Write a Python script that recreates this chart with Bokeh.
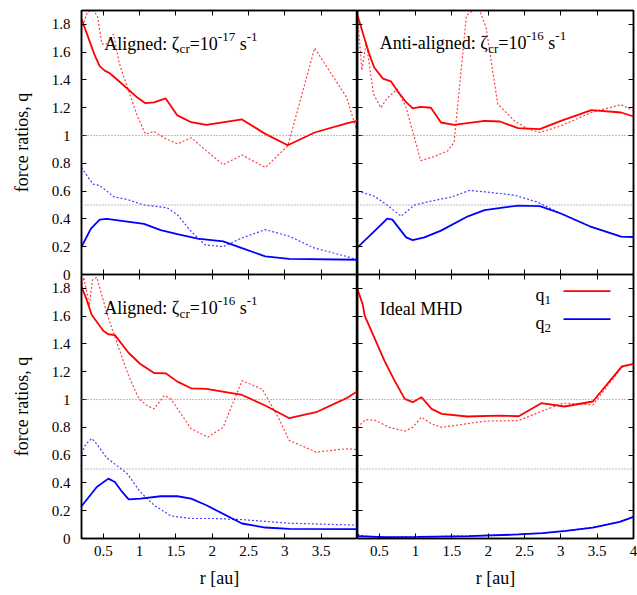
import math
from bokeh.plotting import figure
from bokeh.models import Range1d, LinearAxis, FixedTicker, CustomJSTickFormatter, Span, Label
from bokeh.layouts import row, column
from bokeh.embed import file_html
from bokeh.resources import INLINE

FONT = "Liberation Serif"
RED = "#ff0000"
BLUE = "#0000ff"

# ---------------- data ----------------
X_TICKS_LEFT = [0.5, 1, 1.5, 2, 2.5, 3, 3.5]
X_TICKS_RIGHT = [0.5, 1, 1.5, 2, 2.5, 3, 3.5, 4]
Y_TICKS = [0, 0.2, 0.4, 0.6, 0.8, 1.0, 1.2, 1.4, 1.6, 1.8]
REF_LEVELS = [1.0, 0.5]

# Top-left: Aligned, zeta_cr = 1e-17
tl_q1_x = [0.2, 0.29, 0.38, 0.45, 0.52, 0.59, 0.76, 0.965, 1.08, 1.2, 1.36, 1.52, 1.71, 1.92, 2.41, 2.73, 3.04, 3.41, 3.85, 4.0]
tl_q1_y = [1.84, 1.71, 1.58, 1.50, 1.467, 1.448, 1.371, 1.275, 1.233, 1.239, 1.267, 1.145, 1.096, 1.077, 1.116, 1.012, 0.93, 1.022, 1.087, 1.106]
tl_q1d_x = [0.2, 0.28, 0.36, 0.42, 0.48, 0.56, 0.64, 0.72, 0.85, 0.97, 1.08, 1.2, 1.35, 1.52, 1.71, 1.92, 2.15, 2.41, 2.73, 3.04, 3.41, 3.85, 4.0]
tl_q1d_y = [1.76, 1.89, 1.90, 1.86, 1.66, 1.66, 1.73, 1.52, 1.32, 1.14, 1.01, 1.03, 0.98, 0.94, 0.985, 0.89, 0.79, 0.86, 0.77, 0.925, 1.63, 1.275, 1.02]
tl_q2_x = [0.2, 0.33, 0.45, 0.55, 1.06, 1.29, 1.52, 1.8, 2.15, 2.41, 2.73, 3.06, 4.0]
tl_q2_y = [0.2, 0.33, 0.395, 0.40, 0.364, 0.32, 0.29, 0.258, 0.239, 0.19, 0.13, 0.113, 0.106]
tl_q2d_x = [0.2, 0.29, 0.36, 0.45, 0.55, 0.64, 0.83, 1.06, 1.38, 1.52, 1.71, 1.9, 2.15, 2.41, 2.73, 3.06, 3.41, 3.85, 4.0]
tl_q2d_y = [0.77, 0.70, 0.65, 0.64, 0.60, 0.56, 0.54, 0.50, 0.48, 0.43, 0.31, 0.214, 0.20, 0.263, 0.323, 0.275, 0.19, 0.13, 0.106]

# Top-right: Anti-aligned, zeta_cr = 1e-16
tr_q1_x = [0.2, 0.29, 0.36, 0.43, 0.55, 0.66, 0.75, 0.87, 0.96, 1.07, 1.21, 1.35, 1.53, 1.95, 2.16, 2.41, 2.71, 3.0, 3.42, 3.83, 4.0]
tr_q1_y = [1.865, 1.71, 1.59, 1.49, 1.41, 1.39, 1.32, 1.24, 1.195, 1.207, 1.20, 1.094, 1.077, 1.106, 1.101, 1.053, 1.046, 1.106, 1.183, 1.166, 1.137]
tr_q1d_x = [0.2, 0.26, 0.32, 0.42, 0.52, 0.61, 0.75, 0.87, 0.96, 1.07, 1.24, 1.44, 1.53, 1.7, 1.79, 1.88, 1.97, 2.13, 2.36, 2.55, 2.71, 3.0, 3.42, 3.83, 4.0]
tr_q1d_y = [1.87, 1.47, 1.67, 1.30, 1.20, 1.27, 1.335, 1.20, 1.03, 0.82, 0.846, 0.889, 0.95, 1.865, 1.90, 1.90, 1.78, 1.227, 1.106, 1.046, 1.022, 1.07, 1.166, 1.222, 1.178]
tr_q2_x = [0.2, 0.43, 0.61, 0.68, 0.87, 0.96, 1.12, 1.35, 1.72, 1.95, 2.41, 2.71, 3.0, 3.42, 3.83, 4.0]
tr_q2_y = [0.195, 0.311, 0.402, 0.395, 0.267, 0.248, 0.267, 0.316, 0.419, 0.463, 0.496, 0.492, 0.439, 0.342, 0.272, 0.27]
tr_q2d_x = [0.2, 0.43, 0.61, 0.8, 0.98, 1.21, 1.49, 1.74, 1.95, 2.36, 2.68, 3.0, 3.42, 3.83, 4.0]
tr_q2d_y = [0.60, 0.564, 0.499, 0.419, 0.499, 0.528, 0.557, 0.605, 0.595, 0.571, 0.52, 0.439, 0.342, 0.272, 0.27]

# Bottom-left: Aligned, zeta_cr = 1e-16
bl_q1_x = [0.2, 0.27, 0.34, 0.5, 0.57, 0.66, 0.85, 1.01, 1.2, 1.36, 1.52, 1.71, 1.92, 2.41, 2.73, 3.06, 3.43, 3.85, 4.0]
bl_q1_y = [1.813, 1.72, 1.61, 1.495, 1.47, 1.464, 1.335, 1.256, 1.191, 1.189, 1.129, 1.081, 1.077, 1.033, 0.957, 0.866, 0.909, 1.01, 1.06]
bl_q1d_x = [0.2, 0.23, 0.31, 0.35, 0.41, 0.55, 0.64, 0.85, 0.99, 1.1, 1.2, 1.34, 1.43, 1.71, 1.94, 2.15, 2.41, 2.69, 2.92, 3.06, 3.43, 3.85, 4.0]
bl_q1d_y = [1.80, 1.88, 1.68, 1.86, 1.88, 1.62, 1.48, 1.17, 1.005, 0.957, 0.933, 1.029, 1.005, 0.789, 0.73, 0.80, 1.136, 1.074, 0.861, 0.706, 0.622, 0.646, 0.64]
bl_q2_x = [0.2, 0.41, 0.57, 0.66, 0.76, 0.85, 1.01, 1.29, 1.52, 1.71, 1.92, 2.41, 2.73, 3.06, 4.0]
bl_q2_y = [0.232, 0.371, 0.431, 0.407, 0.335, 0.282, 0.287, 0.304, 0.304, 0.287, 0.239, 0.108, 0.079, 0.069, 0.067]
bl_q2d_x = [0.2, 0.26, 0.34, 0.41, 0.55, 0.83, 1.01, 1.2, 1.43, 1.71, 2.03, 2.41, 3.06, 4.0]
bl_q2d_y = [0.61, 0.68, 0.72, 0.68, 0.579, 0.467, 0.335, 0.239, 0.163, 0.144, 0.144, 0.136, 0.11, 0.096]

# Bottom-right: Ideal MHD
br_q1_x = [0.2, 0.27, 0.3, 0.43, 0.57, 0.71, 0.85, 0.96, 1.08, 1.22, 1.36, 1.71, 2.15, 2.42, 2.73, 3.05, 3.44, 3.84, 4.0]
br_q1_y = [1.794, 1.687, 1.603, 1.447, 1.28, 1.136, 1.005, 0.981, 1.017, 0.933, 0.897, 0.878, 0.885, 0.88, 0.974, 0.95, 0.986, 1.239, 1.256]
br_q1d_x = [0.2, 0.31, 0.45, 0.64, 0.85, 0.96, 1.08, 1.22, 1.36, 1.96, 2.42, 2.7, 3.03, 3.44, 3.84, 4.0]
br_q1d_y = [0.80, 0.856, 0.849, 0.80, 0.773, 0.80, 0.873, 0.825, 0.80, 0.845, 0.849, 0.909, 0.974, 0.962, 1.232, 1.256]
br_q2_x = [0.2, 0.57, 1.03, 1.73, 2.42, 2.75, 3.07, 3.44, 3.81, 4.0]
br_q2_y = [0.017, 0.01, 0.012, 0.017, 0.029, 0.038, 0.055, 0.079, 0.12, 0.156]
br_q2d_x = [0.2, 0.3, 0.57, 1.03, 1.73, 2.42, 2.75, 3.07, 3.44, 3.81, 4.0]
br_q2d_y = [0.03, 0.017, 0.01, 0.012, 0.018, 0.03, 0.039, 0.056, 0.08, 0.12, 0.156]

LEGEND_LABELS = ["1", "2"]
Y_AXIS_LABEL = "force ratios, q"
X_AXIS_LABEL = "r [au]"

# ---------------- helpers ----------------
# each column is one figure: bottom panel on the default y range (0..1.9 in the lower half),
# top panel on the extra range "top" (0..1.9 in the upper half)
X_START, X_END = 0.2, 4.0
Q_MAX = 1.9
PX_PER_Y = 528 / (2 * Q_MAX)
STRIP_W = 40          # narrow strip that carries the two y-axis titles

Y_FMT = """
var v = tick > 1.85 ? tick - 1.9 : tick;
var r = Math.round(v * 10) / 10;
return String(r === 0 ? 0 : r);
"""
X_FMT = "return String(Math.round(tick * 10) / 10);"
EMPTY_FMT = "return '';"

TIMES_W = {"A": .722, "l": .278, "i": .278, "g": .5, "n": .5, "e": .444, "d": .5, ":": .278,
           " ": .25, "ζ": .44, "t": .278, "-": .333, "c": .444, "r": .333, "=": .564, "s": .389,
           "I": .333, "M": .889, "H": .722, "D": .722, "a": .444, "q": .5}


def text_w(s, size):
    return sum(TIMES_W.get(ch, 0.5) for ch in s) * size


def make_fig(w, bl, br):
    p = figure(width=w, height=595, x_range=Range1d(X_START, X_END), y_range=Range1d(0, 2 * Q_MAX),
               output_backend="svg", toolbar_location=None, tools="",
               x_axis_type=None, y_axis_type=None,
               min_border_left=bl, min_border_right=br, min_border_top=10, min_border_bottom=57)
    p.extra_y_ranges = {"top": Range1d(-Q_MAX, Q_MAX)}
    p.outline_line_color = "black"
    p.outline_line_width = 1.5
    p.background_fill_color = "white"
    p.border_fill_color = "white"
    return p


def add_axis(p, side, ticks, fmt=None, axis_label=None, standoff=10, label_standoff=10, fixed=None):
    ax = LinearAxis(ticker=FixedTicker(ticks=ticks))
    if fmt is not None:
        ax.formatter = CustomJSTickFormatter(code=fmt)
        ax.major_label_text_font = FONT
        ax.major_label_text_font_size = "15px"
        ax.major_label_text_color = "black"
        ax.major_label_standoff = standoff
    else:
        ax.formatter = CustomJSTickFormatter(code=EMPTY_FMT)
        ax.major_label_text_font_size = "0px"
        ax.major_label_standoff = 0
    if fixed is not None:
        ax.fixed_location = fixed
    ax.major_tick_in = 5
    ax.major_tick_out = 0
    ax.major_tick_line_color = "black"
    ax.major_tick_line_width = 1
    ax.minor_tick_line_color = None
    ax.axis_line_color = "black"
    ax.axis_line_width = 1.5
    if axis_label:
        ax.axis_label = axis_label
        ax.axis_label_text_font = FONT
        ax.axis_label_text_font_size = "18px"
        ax.axis_label_text_font_style = "normal"
        ax.axis_label_text_color = "black"
        ax.axis_label_standoff = label_standoff
    p.add_layout(ax, side)


def rich_label(p, rng, x, y, pieces):
    off = 0.0
    for text, size, dy in pieces:
        stripped = text.lstrip(" ")
        off += text_w(text[:len(text) - len(stripped)], size)
        p.add_layout(Label(x=x, y=y + dy / PX_PER_Y, x_offset=off, text=stripped, y_range_name=rng,
                           text_font=FONT, text_font_size=f"{size}px",
                           text_baseline="alphabetic", text_align="left", text_color="black"))
        off += text_w(stripped, size)


def draw_series(p, rng, q1x, q1y, q1dx, q1dy, q2x, q2y, q2dx, q2dy):
    for lvl in REF_LEVELS:
        p.add_layout(Span(location=lvl, dimension="width", y_range_name=rng, line_color="#7a7a7a",
                          line_dash="1 2", line_width=1))
    p.line(q1dx, q1dy, y_range_name=rng, line_color=RED, line_width=1.2, line_dash="2 2", line_alpha=0.75)
    p.line(q2dx, q2dy, y_range_name=rng, line_color=BLUE, line_width=1.2, line_dash="2 2", line_alpha=0.75)
    p.line(q1x, q1y, y_range_name=rng, line_color=RED, line_width=1.8)
    p.line(q2x, q2y, y_range_name=rng, line_color=BLUE, line_width=1.8)


Y_TICKS_BOTH = Y_TICKS + [round(Q_MAX + v, 6) for v in Y_TICKS]


def frame_axes(p, x_ticks, y_labels):
    add_axis(p, "left", Y_TICKS_BOTH, Y_FMT if y_labels else None, standoff=11)
    add_axis(p, "right", Y_TICKS_BOTH)
    add_axis(p, "below", x_ticks, X_FMT, X_AXIS_LABEL, standoff=7, label_standoff=9)
    add_axis(p, "above", x_ticks)
    # divider between the upper and lower panel, with ticks on both sides
    add_axis(p, "below", x_ticks, fixed=Q_MAX)
    add_axis(p, "above", x_ticks, fixed=Q_MAX)


def title_strip(height, centre_from_bottom):
    s = figure(width=STRIP_W, height=height, x_range=Range1d(0, STRIP_W), y_range=Range1d(0, height),
               output_backend="svg", toolbar_location=None, tools="",
               x_axis_type=None, y_axis_type=None,
               min_border_left=0, min_border_right=0, min_border_top=0, min_border_bottom=0)
    s.outline_line_color = None
    s.background_fill_color = "white"
    s.border_fill_color = "white"
    s.add_layout(Label(x=21, y=centre_from_bottom, text=Y_AXIS_LABEL, angle=math.pi / 2,
                       text_font=FONT, text_font_size="18px", text_align="center",
                       text_baseline="middle", text_color="black"))
    return s


# ---------------- left column ----------------
left = make_fig(357 - STRIP_W, 81 - STRIP_W, 0)
frame_axes(left, X_TICKS_LEFT, True)
draw_series(left, "top", tl_q1_x, tl_q1_y, tl_q1d_x, tl_q1d_y, tl_q2_x, tl_q2_y, tl_q2d_x, tl_q2d_y)
draw_series(left, "default", bl_q1_x, bl_q1_y, bl_q1d_x, bl_q1d_y, bl_q2_x, bl_q2_y, bl_q2d_x, bl_q2d_y)
rich_label(left, "top", 0.5125, 1.662, [("Aligned: ζ", 18, 0), ("cr", 13, -5), ("=10", 18, 0),
                                         ("-17", 13, 7), (" s", 18, 0), ("-1", 13, 7)])
rich_label(left, "default", 0.5125, 1.656, [("Aligned: ζ", 18, 0), ("cr", 13, -5), ("=10", 18, 0),
                                             ("-16", 13, 7), (" s", 18, 0), ("-1", 13, 7)])

# y-axis titles, one per panel row, centred on each panel
strip = column(title_strip(274, 274 - 142), title_strip(321, 321 - (406 - 274)))

# ---------------- right column ----------------
right = make_fig(280, 0, 4)
frame_axes(right, X_TICKS_RIGHT, False)
draw_series(right, "top", tr_q1_x, tr_q1_y, tr_q1d_x, tr_q1d_y, tr_q2_x, tr_q2_y, tr_q2d_x, tr_q2d_y)
draw_series(right, "default", br_q1_x, br_q1_y, br_q1d_x, br_q1d_y, br_q2_x, br_q2_y, br_q2d_x, br_q2d_y)
rich_label(right, "top", 0.507, 1.664, [("Anti-aligned: ζ", 18, 0), ("cr", 13, -5), ("=10", 18, 0),
                                         ("-16", 13, 7), (" s", 18, 0), ("-1", 13, 7)])
rich_label(right, "default", 0.507, 1.651, [("Ideal MHD", 18, 0)])

# legend (gnuplot style: label, then line sample)
LEG_TEXT_X = 2.651
LEG_LINE_X = [3.036, 3.683]
LEG_TEXT_Y = [1.751, 1.548]
LEG_LINE_Y = [1.780, 1.579]
for lab, col, ty, ly in zip(LEGEND_LABELS, [RED, BLUE], LEG_TEXT_Y, LEG_LINE_Y):
    rich_label(right, "default", LEG_TEXT_X, ty, [("q", 18, 0), (lab, 13, -5)])
    right.line(LEG_LINE_X, [ly, ly], line_color=col, line_width=1.8)

layout = row(strip, left, right)

with open("out.html", "w") as f:
    f.write(file_html(layout, INLINE))
